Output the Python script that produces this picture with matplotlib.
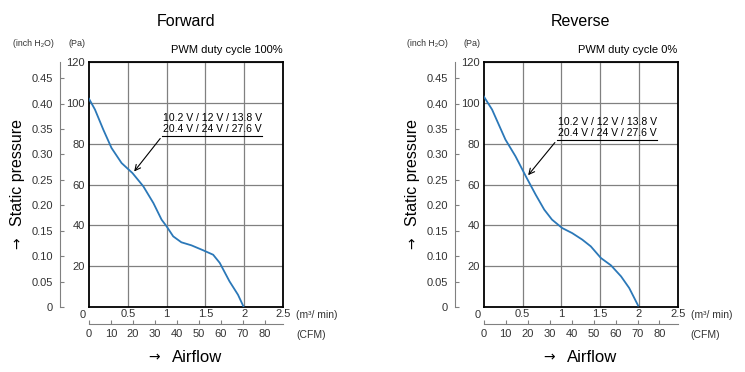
import matplotlib
matplotlib.use("Agg")
import matplotlib.pyplot as plt

plt.rcParams["font.family"] = ["Liberation Sans", "DejaVu Sans"]

# Static pressure (Pa) vs airflow (m3/min)
fwd_flow = [0, 0.077, 0.184, 0.29, 0.42, 0.56, 0.70, 0.83, 0.935, 1.0, 1.085,
            1.19, 1.32, 1.47, 1.6, 1.685, 1.81, 1.92, 1.99]
fwd_pa = [102.0, 96.7, 86.9, 77.9, 70.5, 65.6, 59.1, 50.9, 42.8, 39.5, 34.6,
          31.7, 30.2, 27.8, 25.6, 21.6, 12.6, 6.0, 0.3]

rev_flow = [0, 0.108, 0.28, 0.41, 0.55, 0.67, 0.78, 0.88, 1.01, 1.14, 1.27,
            1.38, 1.51, 1.64, 1.77, 1.875, 1.99]
rev_pa = [103.2, 96.7, 82.0, 73.8, 63.5, 55.0, 47.7, 42.8, 38.7, 36.2, 33.0,
          29.7, 24.0, 20.4, 15.0, 9.3, 0.7]

pa_ticks = [20, 40, 60, 80, 100, 120]
inch_ticks = [0, 0.05, 0.10, 0.15, 0.20, 0.25, 0.30, 0.35, 0.40, 0.45]
m3_ticks = [0.5, 1, 1.5, 2, 2.5]
cfm_ticks = [0, 10, 20, 30, 40, 50, 60, 70, 80]

voltage_lines = ["10.2 V / 12 V / 13.8 V", "20.4 V / 24 V / 27.6 V"]

PA_PER_INCH = 249.089
CFM_PER_M3 = 35.3147

W, H = 745, 372
fig = plt.figure(figsize=(W / 100, H / 100), dpi=100)


def draw_panel(x0, flow, pa, title, pwm, arrow_tip, note_y):
    ax = fig.add_axes([x0 / W, 1 - 307 / H, 194 / W, 245 / H])
    ax.plot(flow, pa, color="#2b78b8", lw=1.3, zorder=3)
    ax.set_xlim(0, 2.5)
    ax.set_ylim(0, 120)

    ax.grid(True, color="#808080", lw=0.9)
    for s in ax.spines.values():
        s.set_linewidth(1.3)
    ax.set_xticks(m3_ticks)
    ax.set_xticklabels(["0.5", "1", "1.5", "2", "2.5"])
    ax.set_yticks(pa_ticks)
    ax.tick_params(length=0, labelsize=8, colors="#333333", pad=3)
    ax.tick_params(axis="x", pad=1.5)
    ax.text(-0.032, -0.013, "0", transform=ax.transAxes, ha="center", va="top",
            fontsize=8, color="#333333")

    # inch H2O scale on the far left
    sy = ax.secondary_yaxis(-0.15, functions=(lambda p: p / PA_PER_INCH,
                                              lambda i: i * PA_PER_INCH))
    sy.set_yticks(inch_ticks)
    sy.set_yticklabels(["0"] + [f"{v:.2f}" for v in inch_ticks[1:]])
    sy.spines["left"].set_color("#808080")
    sy.tick_params(direction="in", length=3, color="#808080", labelsize=8,
                   labelcolor="#333333", pad=5)

    # CFM scale under the plot
    sx = ax.secondary_xaxis(-0.068, functions=(lambda m: m * CFM_PER_M3,
                                               lambda c: c / CFM_PER_M3))
    sx.set_xticks(cfm_ticks)
    sx.spines["bottom"].set_color("#808080")
    sx.tick_params(direction="in", length=3, color="#808080", labelsize=8,
                   labelcolor="#333333", pad=4)

    # voltage note with leader line
    ax.plot([0.94, 2.23], [note_y, note_y], color="black", lw=0.8, zorder=4)
    ax.annotate("", xy=arrow_tip, xytext=(0.94, note_y),
                arrowprops=dict(arrowstyle="->", color="black", lw=0.8))
    ax.text(0.96, note_y + 9.1, voltage_lines[0], ha="left", va="center",
            fontsize=7.5)
    ax.text(0.96, note_y + 3.7, voltage_lines[1], ha="left", va="center",
            fontsize=7.5)

    ax.text(1.0, 1.03, pwm, transform=ax.transAxes, ha="right", va="bottom",
            fontsize=8)

    # outer labels, placed in pixels relative to the axes left edge
    dx = x0 - 89
    fig.text((186 + dx) / W, 1 - 22 / H, title, ha="center", va="center",
             fontsize=11.5)
    fig.text((33 + dx) / W, 1 - 44 / H, "(inch H₂O)", ha="center", va="center",
             fontsize=6.3, color="#333333")
    fig.text((77 + dx) / W, 1 - 44 / H, "(Pa)", ha="center", va="center",
             fontsize=6.5, color="#333333")
    fig.text((296 + dx) / W, 1 - 315 / H, "(m³/ min)", ha="left", va="center",
             fontsize=7.5, color="#333333")
    fig.text((296 + dx) / W, 1 - 335 / H, "(CFM)", ha="left", va="center",
             fontsize=7.5, color="#333333")
    fig.text((18 + dx) / W, 1 - 172 / H, "Static pressure", rotation=90,
             ha="center", va="center", fontsize=11.5)
    fig.text((18 + dx) / W, 1 - 243 / H, "→", rotation=90, family="DejaVu Sans",
             ha="center", va="center", fontsize=10)
    fig.text((197 + dx) / W, 1 - 358 / H, "Airflow", ha="center", va="center",
             fontsize=12)
    fig.text((154 + dx) / W, 1 - 357 / H, "→", family="DejaVu Sans",
             ha="center", va="center", fontsize=10)
    return ax


draw_panel(89, fwd_flow, fwd_pa, "Forward", "PWM duty cycle 100%",
           (0.56, 65.3), 83.6)
draw_panel(483.7, rev_flow, rev_pa, "Reverse", "PWM duty cycle 0%",
           (0.55, 63.5), 81.6)

fig.savefig("out.png", dpi=100)
